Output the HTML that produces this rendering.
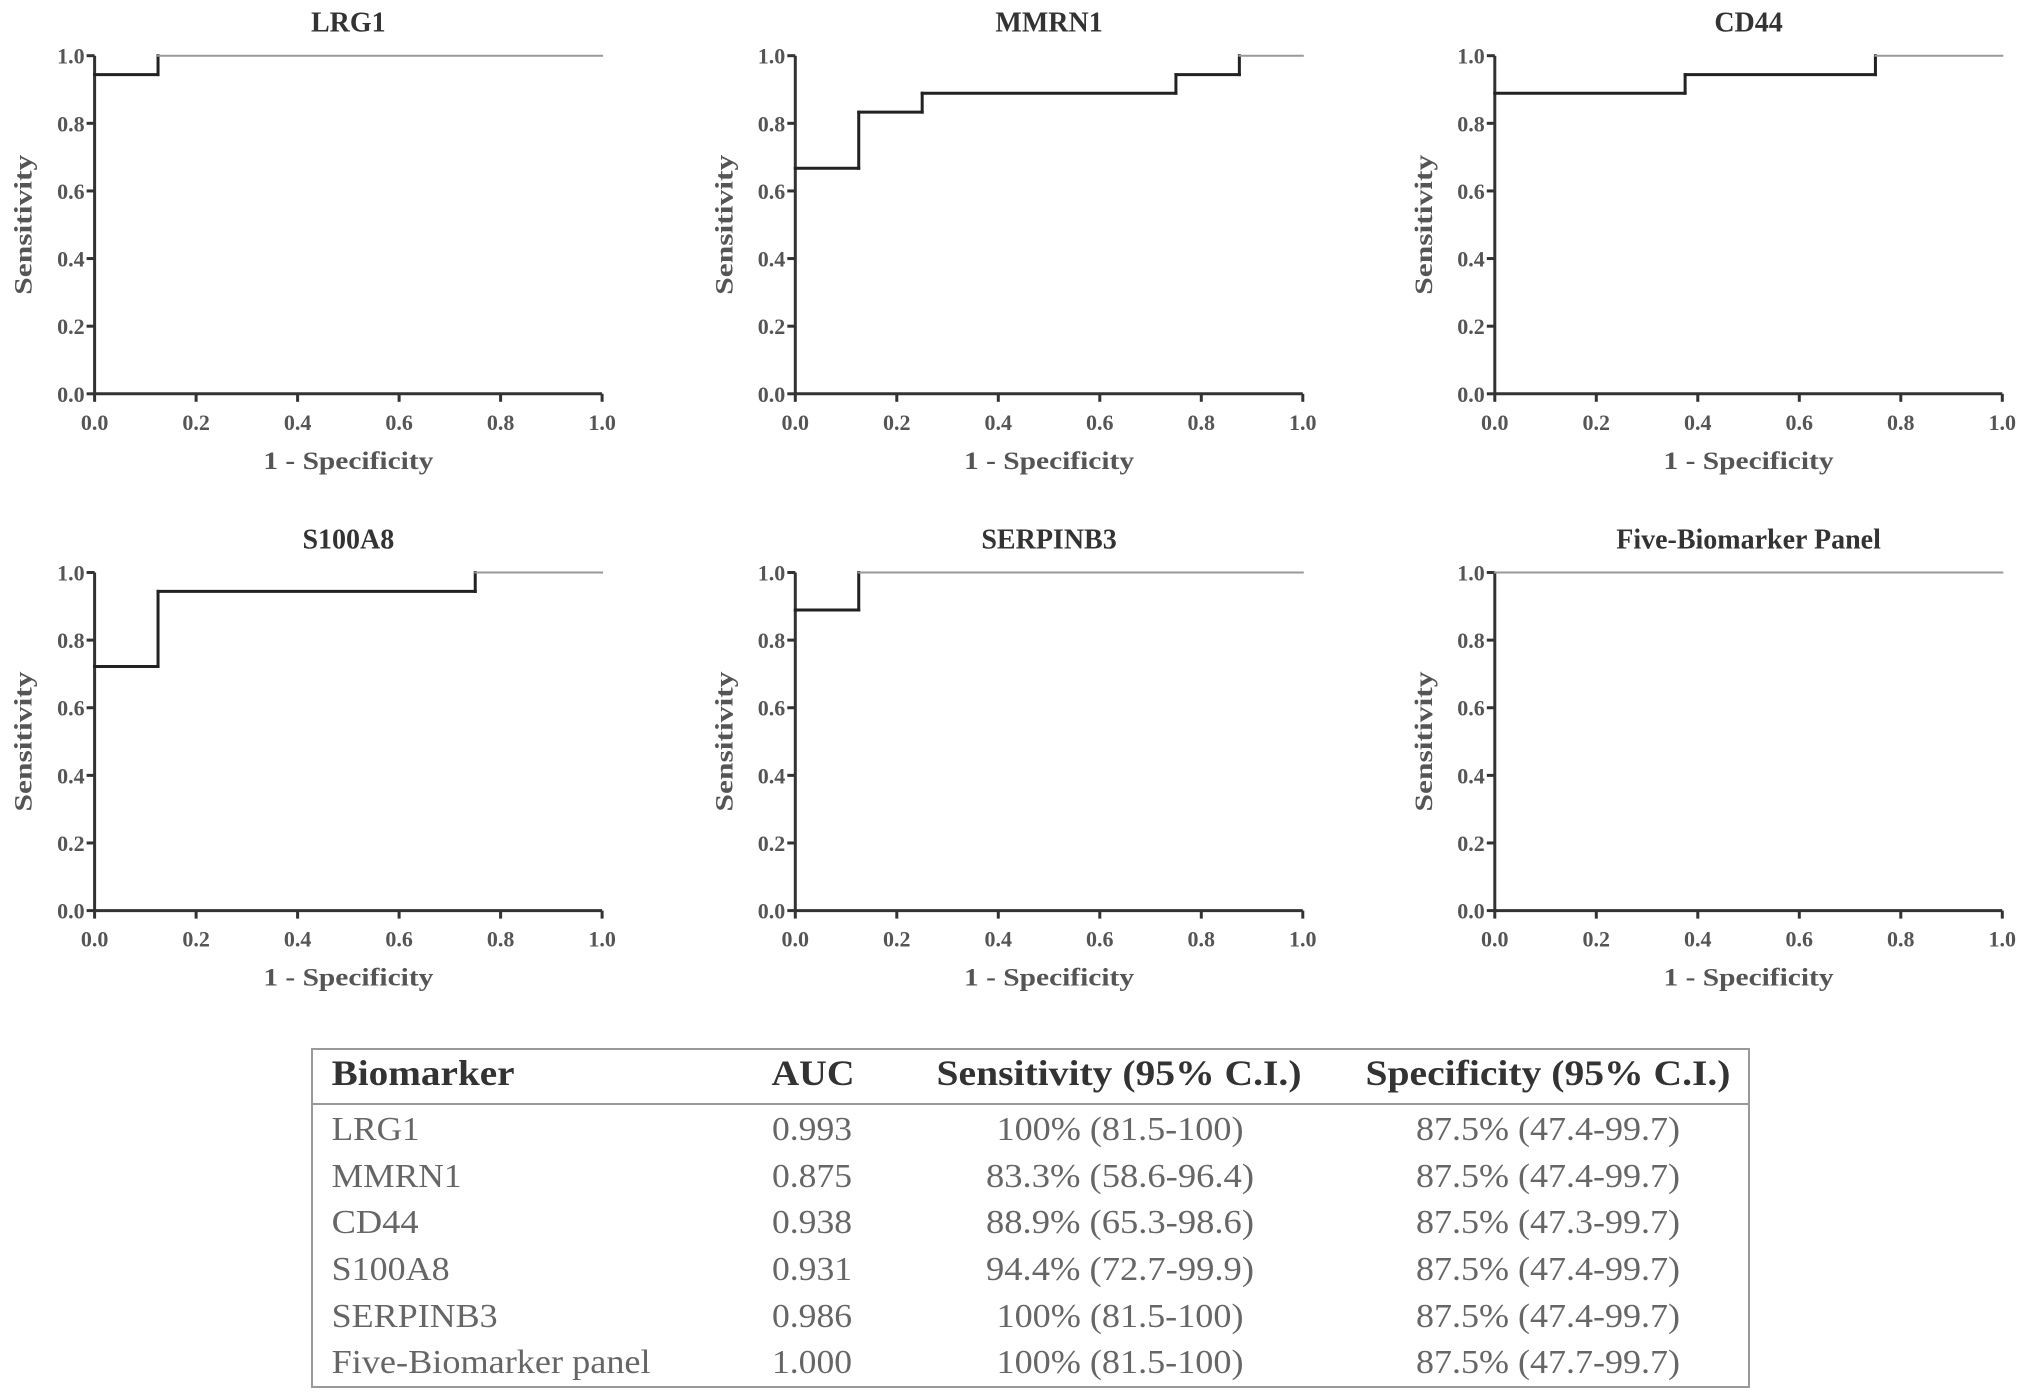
<!DOCTYPE html>
<html><head><meta charset="utf-8"><style>
html,body{margin:0;padding:0;background:#fff}
svg{display:block}
</style></head><body>
<svg id="fig" width="2031" height="1400" viewBox="0 0 2031 1400" font-family="'Liberation Serif', serif"></svg>
<script>
const titles = ["LRG1","MMRN1","CD44","S100A8","SERPINB3","Five-Biomarker Panel"];
const fprLRG1 = [0, 0.125, 0.125, 1];
const tprLRG1 = [0.944, 0.944, 1, 1];
const fprMMRN1 = [0, 0.125, 0.125, 0.25, 0.25, 0.75, 0.75, 0.875, 0.875, 1];
const tprMMRN1 = [0.667, 0.667, 0.833, 0.833, 0.889, 0.889, 0.944, 0.944, 1, 1];
const fprCD44 = [0, 0.375, 0.375, 0.75, 0.75, 1];
const tprCD44 = [0.889, 0.889, 0.944, 0.944, 1, 1];
const fprS100A8 = [0, 0.125, 0.125, 0.75, 0.75, 1];
const tprS100A8 = [0.722, 0.722, 0.944, 0.944, 1, 1];
const fprSERPINB3 = [0, 0.125, 0.125, 1];
const tprSERPINB3 = [0.889, 0.889, 1, 1];
const fprPanel = [0, 1];
const tprPanel = [1, 1];
const tickLabels = ["0.0","0.2","0.4","0.6","0.8","1.0"];
const tableHeader = ["Biomarker","AUC","Sensitivity (95% C.I.)","Specificity (95% C.I.)"];
const tableNames = ["LRG1","MMRN1","CD44","S100A8","SERPINB3","Five-Biomarker panel"];
const tableAUC = ["0.993","0.875","0.938","0.931","0.986","1.000"];
const tableSens = ["100% (81.5-100)","83.3% (58.6-96.4)","88.9% (65.3-98.6)","94.4% (72.7-99.9)","100% (81.5-100)","100% (81.5-100)"];
const tableSpec = ["87.5% (47.4-99.7)","87.5% (47.4-99.7)","87.5% (47.3-99.7)","87.5% (47.4-99.7)","87.5% (47.4-99.7)","87.5% (47.7-99.7)"];

const NS="http://www.w3.org/2000/svg";
const svg=document.getElementById('fig');
const FF="Liberation Serif, serif";
function mk(tag,attrs,parent,txt){const e=document.createElementNS(NS,tag);for(const k in attrs)e.setAttribute(k,attrs[k]);if(tag==='text')e.setAttribute('font-family',FF);if(txt!==undefined)e.textContent=txt;(parent||svg).appendChild(e);return e;}

const series=[[fprLRG1,tprLRG1],[fprMMRN1,tprMMRN1],[fprCD44,tprCD44],[fprS100A8,tprS100A8],[fprSERPINB3,tprSERPINB3],[fprPanel,tprPanel]];
const colX=[94.6,795.3,1494.8], W=507.5;
const rowY=[55.7,572.5], H=338.1;

series.forEach((s,i)=>{
  const x0=colX[i%3], yTop=rowY[Math.floor(i/3)], y0=yTop+H;
  const sx=v=>x0+v*W, sy=v=>y0-v*H;
  const g=mk('g',{});
  
  
  const t=mk('text',{x:x0+W/2,y:yTop-24,'text-anchor':'middle','font-size':28,'font-weight':'bold',fill:'#333'},g,titles[i]);
  
  
  const ax=mk('path',{d:`M${sx(0)},${sy(1)}V${sy(0)}H${sx(1)}`,stroke:'#333','stroke-width':3,fill:'none'},g);
  
  
  tickLabels.forEach((lab,k)=>{
    const v=k/5;
    mk('line',{x1:sx(v),x2:sx(v),y1:sy(0),y2:sy(0)+8,stroke:'#333','stroke-width':3},g);
    mk('line',{x1:sx(0)-8,x2:sx(0),y1:sy(v),y2:sy(v),stroke:'#333','stroke-width':3},g);
    const xl=mk('text',{x:sx(v),y:sy(0)+36,'text-anchor':'middle','font-size':22,'font-weight':'bold',fill:'#555'},g,lab);
    
    
    const yl=mk('text',{x:sx(0)-10,y:sy(v)+8,'text-anchor':'end','font-size':22,'font-weight':'bold',fill:'#555'},g,lab);
    
    
  });
  const xt=mk('text',{x:x0+W/2,y:y0+75,'text-anchor':'middle','font-size':25,'font-weight':'bold',fill:'#555',textLength:170,lengthAdjust:'spacingAndGlyphs'},g,'1 - Specificity');
  
  
  const cy=yTop+H/2;
  const yt=mk('text',{x:x0-63,y:cy,'text-anchor':'middle','font-size':25,'font-weight':'bold',fill:'#555',textLength:140,lengthAdjust:'spacingAndGlyphs',transform:`rotate(-90 ${x0-63} ${cy})`},g,'Sensitivity');
  
  
  const [fx,ty]=s;
  for(let k=0;k<fx.length-1;k++){
    const top=ty[k]>=1&&ty[k+1]>=1;
    const seg=mk('line',{x1:sx(fx[k]),y1:sy(ty[k]),x2:sx(fx[k+1]),y2:sy(ty[k+1]),stroke:top?'#999':'#222','stroke-width':top?2:3,'stroke-linecap':'square'},g);
    
    
  }
});

const tg=mk('g',{});


const tb=mk('rect',{x:312,y:1049,width:1437,height:338,fill:'none',stroke:'#999','stroke-width':2},tg);


const hl=mk('line',{x1:312,x2:1749,y1:1104,y2:1104,stroke:'#999','stroke-width':2},tg);


const hdrSpec=[[331.6,'start',183],[813,'middle',83],[1119,'middle',365],[1548,'middle',365]];
tableHeader.forEach((h,c)=>{
  const e=mk('text',{x:hdrSpec[c][0],y:1085,'text-anchor':hdrSpec[c][1],'font-size':36,'font-weight':'bold',fill:'#333',textLength:hdrSpec[c][2],lengthAdjust:'spacingAndGlyphs'},tg,h);
  
  
});
const rowYs=[1128,1175,1221,1268,1315,1361];
const nameW=[88,130,87,118,166,319];
tableNames.forEach((n,r)=>{
  const y=rowYs[r]+12;
  const e1=mk('text',{x:331.6,y:y,'font-size':34,fill:'#666',textLength:nameW[r],lengthAdjust:'spacingAndGlyphs'},tg,n);
  
  
  const e2=mk('text',{x:812,y:y,'text-anchor':'middle','font-size':34,fill:'#666',textLength:80,lengthAdjust:'spacingAndGlyphs'},tg,tableAUC[r]);
  
  
  const sw=tableSens[r].length>15?268:247;
  const e3=mk('text',{x:1120,y:y,'text-anchor':'middle','font-size':34,fill:'#666',textLength:sw,lengthAdjust:'spacingAndGlyphs'},tg,tableSens[r]);
  
  
  const e4=mk('text',{x:1548,y:y,'text-anchor':'middle','font-size':34,fill:'#666',textLength:264,lengthAdjust:'spacingAndGlyphs'},tg,tableSpec[r]);
  
  
});
</script>
</body></html>
